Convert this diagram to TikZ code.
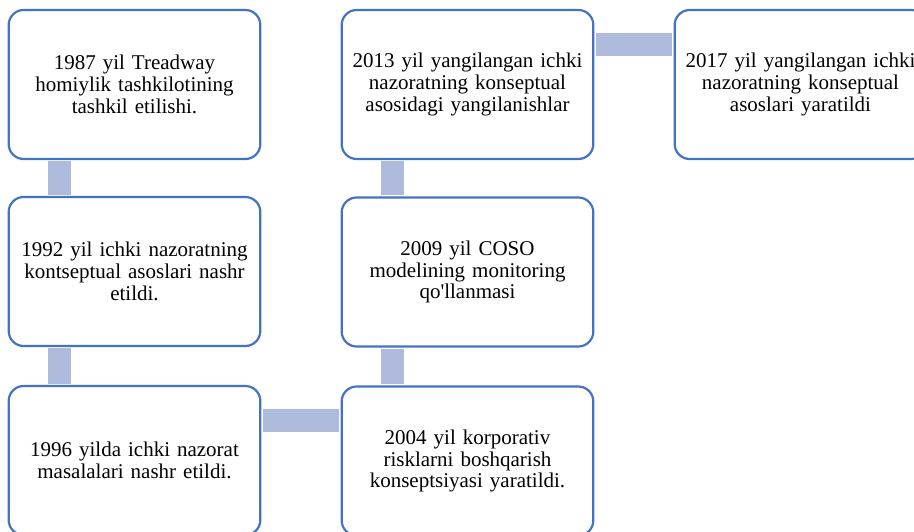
\documentclass[tikz,border=0pt]{standalone}
\usepackage{fontspec}
\setmainfont{Liberation Serif}
\definecolor{boxline}{RGB}{68,114,196}
\definecolor{barfill}{RGB}{175,187,221}

\begin{document}
\begin{tikzpicture}[x=1pt,y=-1pt,
    stage/.style={draw=boxline,line width=2.2pt,fill=white,rounded corners=15pt,
        minimum width=251pt,minimum height=149pt,align=center,text width=245pt,
        font=\fontsize{21}{21.7}\selectfont},
    bar/.style={barfill,line width=23pt,shorten <=1.1pt,shorten >=1.1pt}]
    \useasboundingbox (0,0) rectangle (914,532);
    \node [stage] (y1987) at (134.5,84.5) {1987 yil Treadway\\homiylik tashkilotining\\tashkil etilishi.};
    \node [stage] (y1992) at (134.5,271.5) {1992 yil ichki nazoratning\\kontseptual asoslari nashr\\etildi.};
    \node [stage] (y1996) at (134.5,460.5) {1996 yilda ichki nazorat\\masalalari nashr etildi.};
    \node [stage] (y2004) at (467.5,461) {2004 yil korporativ\\risklarni boshqarish\\konseptsiyasi yaratildi.};
    \node [stage] (y2009) at (467.5,272) {2009 yil COSO\\modelining monitoring\\qo\textquotesingle llanmasi};
    \node [stage] (y2013) at (467.5,84.5) {2013 yil yangilangan ichki\\nazoratning konseptual\\asosidagi yangilanishlar};
    \node [stage] (y2017) at (800.5,84.5) {2017 yil yangilangan ichki\\nazoratning konseptual\\asoslari yaratildi};
    % connecting bars
    \draw [bar] ([xshift=51.5pt]y1987.south west) -- ([xshift=51.5pt]y1992.north west);
    \draw [bar] ([xshift=51.5pt]y1992.south west) -- ([xshift=51.5pt]y1996.north west);
    \draw [bar] ([yshift=-36pt]y1996.north east) -- ([yshift=-36pt]y1996.north east -| y2004.west);
    \draw [bar] ([xshift=51.5pt]y2004.north west) -- ([xshift=51.5pt]y2009.south west);
    \draw [bar] ([xshift=51.5pt]y2009.north west) -- ([xshift=51.5pt]y2013.south west);
    \draw [bar] ([yshift=-36pt]y2013.north east) -- ([yshift=-36pt]y2013.north east -| y2017.west);
\end{tikzpicture}
\end{document}
